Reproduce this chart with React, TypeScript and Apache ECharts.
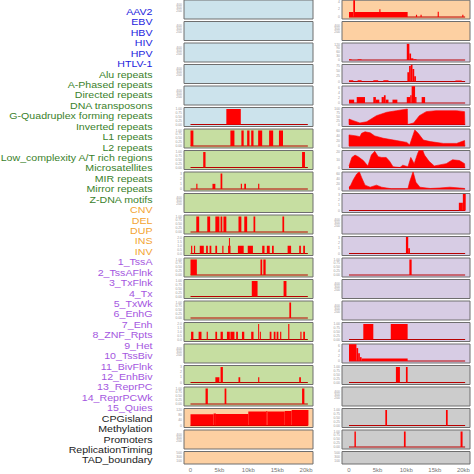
import React, { useEffect, useRef } from "react";
import * as echarts from "echarts";

// ---------- labels ----------
const virusLabels = ["AAV2", "EBV", "HBV", "HIV", "HPV", "HTLV-1"];
const repeatLabels = ["Alu repeats", "A-Phased repeats", "Directed repeats", "DNA transposons", "G-Quadruplex forming repeats", "Inverted repeats", "L1 repeats", "L2 repeats", "Low_complexity A/T rich regions", "Microsatellites", "MIR repeats", "Mirror repeats", "Z-DNA motifs"];
const svLabels = ["CNV", "DEL", "DUP", "INS", "INV"];
const stateLabels = ["1_TssA", "2_TssAFlnk", "3_TxFlnk", "4_Tx", "5_TxWk", "6_EnhG", "7_Enh", "8_ZNF_Rpts", "9_Het", "10_TssBiv", "11_BivFlnk", "12_EnhBiv", "13_ReprPC", "14_ReprPCWk", "15_Quies"];
const otherLabels = ["CPGisland", "Methylation", "Promoters", "ReplicationTiming", "TAD_boundary"];

// ---------- tick sets ----------
const emptyTicks = [100, 200, 300, 400, 500];
const shortEmptyTicks = [100, 300, 500];
const unitTicks = [0, 0.25, 0.5, 0.75, 1];
const twoTicks = [0, 0.5, 1, 1.5, 2];
const threeTicks = [0, 1, 2, 3];
const xTickKb = [0, 5, 10, 15, 20];
const windowKb = [0, 20.3];

// ---------- data: segments [startKb, endKb, value] ----------
const htlv1Bars = [[6.2, 8.7, 1]];
const aluBars = [[0, 0.5, 1], [6.9, 7.6, 1], [8.8, 9.2, 1], [9.8, 10.2, 1], [10.5, 10.9, 1], [11.7, 12.4, 1], [13.6, 14.3, 1], [15.3, 16.0, 1]];
const aPhasedBars = [[2.2, 2.6, 1], [19.3, 19.8, 1]];
const directedBars = [[1.0, 1.2, 1], [3.8, 4.3, 1], [5.2, 5.5, 3], [8.7, 8.9, 1], [9.3, 9.6, 1], [11.7, 11.9, 1]];
const gQuadBars = [[1.0, 1.5, 1], [2.9, 3.4, 1], [4.3, 5.0, 1], [5.2, 5.5, 1], [5.7, 6.2, 1], [8.3, 8.8, 1], [9.3, 9.8, 1], [10.9, 11.2, 1], [15.9, 16.2, 1]];
const invertedBars = [[0.1, 0.3, 1], [0.6, 0.8, 1], [1.6, 2.3, 1], [2.7, 3.0, 1], [3.3, 3.6, 1], [4.3, 4.6, 1], [5.5, 5.7, 1], [6.5, 6.65, 1], [6.65, 6.75, 2], [6.75, 6.9, 1], [8.2, 9.2, 1], [9.9, 10.8, 1], [12.4, 12.8, 1], [13.2, 13.7, 1], [14.1, 14.4, 1], [16.8, 17.4, 1], [18.8, 19.1, 1], [19.5, 19.8, 1]];
const l1Bars = [[0, 1.1, 1], [12.1, 12.4, 1], [12.6, 13.0, 1]];
const l2Bars = [[10.6, 11.6, 1], [16.1, 16.6, 1]];
const lowComplexityBars = [[17.1, 17.4, 1]];
const microsatBars = [[0.1, 0.5, 1], [1.4, 1.9, 1], [2.8, 3.0, 1], [4.3, 4.6, 1], [5.2, 5.6, 1], [6.3, 6.8, 1], [6.9, 7.6, 1], [7.9, 8.2, 1], [8.9, 9.3, 1], [10.5, 10.9, 1], [11.7, 11.85, 2], [12.0, 12.1, 1], [13.7, 14.0, 1], [14.4, 14.7, 1], [14.9, 15.2, 1], [15.5, 15.7, 1], [16.9, 17.1, 2], [19.0, 19.2, 1], [19.5, 19.8, 1]];
const mirrorBars = [[4.3, 5.0, 1], [5.2, 5.6, 3], [8.3, 8.6, 1], [11.7, 11.9, 1], [18.8, 19.1, 1]];
const zdnaBars = [[2.6, 3.0, 1], [5.9, 6.2, 1], [19.3, 19.7, 1]];
const cnvBars = [[0, 4.0, 88], [4.0, 4.4, 93], [4.4, 10.0, 90], [10.0, 13.1, 108], [13.1, 13.3, 112], [13.3, 16.3, 108], [16.3, 17.5, 112], [17.5, 20.4, 120]];

const insBars = [[0, 0.75, 1.3], [0.75, 1.05, 5], [1.05, 10.25, 1.3], [5.3, 5.5, 2], [11.7, 11.9, 0.6], [12.5, 12.7, 0.6], [15.5, 15.7, 1.4], [19.8, 20.0, 0.6]];
const tssABars = [[0, 0.45, 5], [1.5, 2.2, 5], [10.1, 10.55, 125], [10.55, 10.85, 50], [10.85, 11.25, 13], [11.25, 11.8, 6]];
const tssAFlnkBars = [[0, 0.75, 6], [1.5, 2.2, 6], [4.25, 5.1, 6], [6.0, 6.9, 6], [10.2, 10.5, 45], [10.5, 10.8, 75], [10.8, 11.1, 82], [11.1, 11.4, 60], [11.4, 11.7, 25], [18.6, 19.7, 5]];
const txFlnkBars = [[0, 0.9, 1.3], [1.35, 2.8, 2.3], [4.25, 4.7, 2.3], [4.7, 5.3, 1.3], [5.7, 6.1, 2.3], [6.1, 6.4, 3], [6.4, 6.9, 1.3], [7.6, 8.45, 1.3], [10.1, 10.7, 2.3], [10.7, 10.95, 3], [10.95, 11.55, 6.5], [11.55, 11.8, 2.3], [12.7, 13.3, 2.3]];
const znfBars = [[19.2, 19.9, 1.5], [19.9, 20.4, 3.2]];
const tssBivBars = [[9.95, 10.35, 3.2], [10.35, 10.65, 1]];
const bivFlnkBars = [[10.55, 10.95, 1]];
const reprPCWkBars = [[2.5, 4.25, 1], [7.3, 10.25, 1]];
const quiesBars = [[0, 1.3, 6.5], [1.3, 1.6, 5], [1.6, 1.9, 3], [1.9, 2.2, 1.5], [2.2, 10.25, 1]];
const cpgBars = [[8.2, 8.9, 1], [9.95, 10.25, 1]];
const promoterBars = [[6.35, 6.65, 1], [16.95, 17.25, 1]];
const replicationBars = [[0.95, 1.2, 1], [9.6, 9.9, 1], [19.5, 19.85, 1]];

// ---------- data: profiles [kb, value] ----------
const txProfile = [[0, 0], [0, 35], [0.75, 25], [1.9, 10], [3.1, 18], [4.8, 57], [6.6, 79], [8.3, 89], [10.2, 100], [10.25, 0], [11.3, 10], [12.3, 57], [13.5, 83], [15.2, 89], [18.8, 89], [20.2, 83], [20.25, 0]];
const txWkProfile = [[0, 0], [0, 43], [1.3, 39], [1.9, 36], [2.2, 49], [2.8, 55], [3.7, 51], [4.5, 39], [6.0, 30], [8.3, 21], [10.1, 14], [10.6, 4], [11.5, 62], [12.1, 49], [13.0, 23], [14.2, 17], [16.5, 10], [18.8, 10], [20.2, 21], [20.25, 0]];
const enhGProfile = [[0, 2], [0.5, 13], [1.05, 16], [1.6, 14], [2.5, 9], [3.3, 2], [3.9, 16], [4.5, 21], [5.1, 14], [5.7, 13], [6.5, 13], [7.1, 8], [7.7, 1], [8.9, 0], [9.4, 3], [10.3, 1], [10.8, 13], [11.4, 5], [12.0, 18], [12.6, 28], [13.2, 16], [14.0, 8], [14.9, 2], [17.0, 5], [18.1, 10], [19.3, 9], [20.2, 5], [20.25, 0]];
const enhProfile = [[0, 7], [0.3, 15], [0.75, 36], [1.35, 58], [1.8, 67], [2.2, 45], [2.8, 15], [3.7, 7], [4.8, 15], [5.7, 7], [7.4, 1], [10.3, 1], [10.6, 28], [11.2, 67], [11.7, 26], [12.4, 7], [14.2, 2], [15.9, 4], [17.6, 7], [19.3, 4], [20.2, 2], [20.25, 0]];

// ---------- colours ----------
const BG = { blue: "#cce3ec", green: "#c6dea1", purple: "#d7cce4", orange: "#fdd0a2", grey: "#cccccc" };
const TXT = { blue: "#2222dd", green: "#3a7f2b", orange: "#f3a330", purple: "#a456e0", black: "#222222" };

type Panel = { bg: string; ticks: number[]; dec: number; bars?: number[][]; profile?: number[][] };
const E = (bg: string, short = false): Panel => ({ bg, ticks: short ? shortEmptyTicks : emptyTicks, dec: 0 });

const leftPanels: Panel[] = [
  E(BG.blue), E(BG.blue), E(BG.blue), E(BG.blue), E(BG.blue),
  { bg: BG.blue, ticks: unitTicks, dec: 2, bars: htlv1Bars },
  { bg: BG.green, ticks: unitTicks, dec: 2, bars: aluBars },
  { bg: BG.green, ticks: unitTicks, dec: 2, bars: aPhasedBars },
  { bg: BG.green, ticks: threeTicks, dec: 0, bars: directedBars },
  E(BG.green),
  { bg: BG.green, ticks: unitTicks, dec: 2, bars: gQuadBars },
  { bg: BG.green, ticks: twoTicks, dec: 1, bars: invertedBars },
  { bg: BG.green, ticks: unitTicks, dec: 2, bars: l1Bars },
  { bg: BG.green, ticks: unitTicks, dec: 2, bars: l2Bars },
  { bg: BG.green, ticks: unitTicks, dec: 2, bars: lowComplexityBars },
  { bg: BG.green, ticks: twoTicks, dec: 1, bars: microsatBars },
  E(BG.green),
  { bg: BG.green, ticks: threeTicks, dec: 0, bars: mirrorBars },
  { bg: BG.green, ticks: unitTicks, dec: 2, bars: zdnaBars },
  { bg: BG.orange, ticks: [0, 40, 80, 120], dec: 0, bars: cnvBars },
  E(BG.orange), E(BG.orange, true),
];
const rightPanels: Panel[] = [
  { bg: BG.orange, ticks: [0, 2, 4], dec: 0, bars: insBars },
  E(BG.orange),
  { bg: BG.purple, ticks: [0, 30, 60, 90, 120], dec: 0, bars: tssABars },
  { bg: BG.purple, ticks: [0, 25, 50, 75], dec: 0, bars: tssAFlnkBars },
  { bg: BG.purple, ticks: [0, 2, 4, 6], dec: 0, bars: txFlnkBars },
  { bg: BG.purple, ticks: [0, 25, 50, 75, 100], dec: 0, profile: txProfile },
  { bg: BG.purple, ticks: [0, 20, 40, 60], dec: 0, profile: txWkProfile },
  { bg: BG.purple, ticks: [0, 10, 20], dec: 0, profile: enhGProfile },
  { bg: BG.purple, ticks: [0, 20, 40, 60], dec: 0, profile: enhProfile },
  { bg: BG.purple, ticks: threeTicks, dec: 0, bars: znfBars },
  E(BG.purple),
  { bg: BG.purple, ticks: threeTicks, dec: 0, bars: tssBivBars },
  { bg: BG.purple, ticks: unitTicks, dec: 2, bars: bivFlnkBars },
  E(BG.purple), E(BG.purple),
  { bg: BG.purple, ticks: unitTicks, dec: 2, bars: reprPCWkBars },
  { bg: BG.purple, ticks: [0, 2, 4, 6], dec: 0, bars: quiesBars },
  { bg: BG.grey, ticks: unitTicks, dec: 2, bars: cpgBars },
  E(BG.grey),
  { bg: BG.grey, ticks: unitTicks, dec: 2, bars: promoterBars },
  { bg: BG.grey, ticks: unitTicks, dec: 2, bars: replicationBars },
  E(BG.grey, true),
];

const allLabels = [...virusLabels, ...repeatLabels, ...svLabels, ...stateLabels, ...otherLabels];
const labelColor = (i: number) =>
  i < 6 ? TXT.blue : i < 19 ? TXT.green : i < 24 ? TXT.orange : i < 39 ? TXT.purple : TXT.black;

function buildOption() {
  const cols = [
    { left: 184, width: 129, xmin: -1.125, xmax: 21.19, panels: leftPanels },
    { left: 342, width: 128, xmin: -1.224, xmax: 21.15, panels: rightPanels },
  ];
  const grid: any[] = [], xAxis: any[] = [], yAxis: any[] = [], series: any[] = [];
  let k = 0;
  cols.forEach((c) => {
    c.panels.forEach((p, i) => {
      const last = i === c.panels.length - 1;
      const top = i * 21.5;
      const h = last ? 12.5 : 19;
      const pt = last ? 1 : 1.5, pb = last ? 1.5 : 2;
      const M = p.ticks[p.ticks.length - 1];
      const D = h - pt - pb;
      grid.push({ left: c.left, top, width: c.width, height: h, show: true, backgroundColor: p.bg, borderColor: "#6e6e6e", borderWidth: 1 });
      xAxis.push({
        gridIndex: k, type: "value", min: c.xmin, max: c.xmax,
        axisLine: { show: false }, splitLine: { show: false }, axisTick: { show: false },
        axisLabel: last
          ? { show: true, customValues: xTickKb, fontSize: 6, color: "#777", margin: 3, fontFamily: "Liberation Sans",
              formatter: (v: number) => (v === 0 ? "0" : `${v}kb`) }
          : { show: false },
      });
      yAxis.push({
        gridIndex: k, type: "value", min: (-pb / D) * M, max: M + (pt / D) * M,
        axisLine: { show: false }, splitLine: { show: false }, axisTick: { show: false },
        axisLabel: { show: true, customValues: p.ticks, fontSize: 3.4, lineHeight: 3.4, color: "#999", margin: 2, fontFamily: "Liberation Sans",
          formatter: (v: number) => v.toFixed(p.dec) },
      });
      if (p.bars || p.profile) {
        series.push({
          type: "line", xAxisIndex: k, yAxisIndex: k, data: windowKb.map((x) => [x, 0]),
          symbol: "none", lineStyle: { color: "#b80000", width: 1 }, silent: true, z: 1,
        });
      }
      if (p.bars) {
        series.push({
          type: "custom", xAxisIndex: k, yAxisIndex: k, data: p.bars, clip: true, silent: true, z: 2,
          renderItem: (_params: any, api: any) => {
            const a = api.coord([api.value(0), api.value(2)]);
            const b = api.coord([api.value(1), 0]);
            return {
              type: "rect",
              shape: { x: a[0], y: a[1], width: Math.max(b[0] - a[0], 1), height: b[1] - a[1] },
              style: { fill: "#ff0000" },
            };
          },
        });
      }
      if (p.profile) {
        series.push({
          type: "line", xAxisIndex: k, yAxisIndex: k, data: p.profile, symbol: "none", clip: true, silent: true, z: 2,
          lineStyle: { color: "#ff0000", width: 0.6 }, areaStyle: { color: "#ff0000", opacity: 1 },
        });
      }
      k++;
    });
  });
  const graphic = allLabels.map((t, i) => ({
    type: "text", x: 152.5, y: 11.7 + i * 10.43, scaleX: 1.14,
    style: { text: t, fill: labelColor(i), fontSize: 9.3, lineHeight: 9.3, fontFamily: "Liberation Sans", align: "right", verticalAlign: "middle" },
  }));
  return { animation: false, grid, xAxis, yAxis, series, graphic };
}

export default function App() {
  const ref = useRef<HTMLDivElement>(null);
  useEffect(() => {
    if (!ref.current) return;
    const chart = echarts.init(ref.current, null, { renderer: "svg" });
    chart.setOption(buildOption());
    return () => chart.dispose();
  }, []);
  return <div ref={ref} style={{ position: "fixed", left: 0, top: 0, width: 474, height: 474, background: "#fff" }} />;
}
